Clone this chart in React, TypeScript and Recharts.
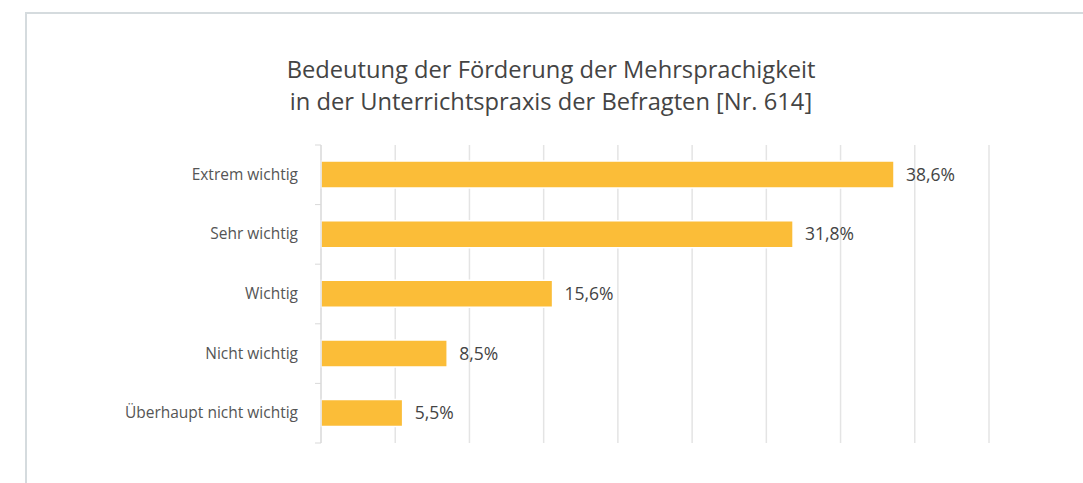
import { BarChart, Bar, XAxis, YAxis, CartesianGrid, LabelList } from "recharts";

const categories = [
  "Extrem wichtig",
  "Sehr wichtig",
  "Wichtig",
  "Nicht wichtig",
  "Überhaupt nicht wichtig",
];
const shares = [38.6, 31.8, 15.6, 8.5, 5.5];
const xTicks = [0, 5, 10, 15, 20, 25, 30, 35, 40, 45];

const data = categories.map((name, i) => ({ name, value: shares[i] }));

const FONT = "'Open Sans', 'Noto Sans', sans-serif";
const TOP = 145;
const BOTTOM = 443;
const BAND = (BOTTOM - TOP) / categories.length;

const fmt = (v: number) => `${v.toFixed(1).replace(".", ",")}%`;

function CategoryTick(props: any) {
  const { x, y, payload, index } = props;
  const ax = 321;
  return (
    <g>
      <line x1={ax - 6} x2={ax} y1={y - BAND / 2} y2={y - BAND / 2} stroke="#d9d9d9" />
      {index === categories.length - 1 && (
        <line x1={ax - 6} x2={ax} y1={y + BAND / 2} y2={y + BAND / 2} stroke="#d9d9d9" />
      )}
      <text
        x={ax - 23}
        y={y}
        dy={5}
        textAnchor="end"
        fill="#555"
        fontSize={15.5}
        fontFamily={FONT}
      >
        {payload.value}
      </text>
    </g>
  );
}

export default function App() {
  return (
    <div style={{ position: "absolute", left: 0, top: 0, width: 1083, height: 483, background: "#fff", overflow: "hidden" }}>
      <div
        style={{
          position: "absolute",
          left: 25,
          top: 12,
          right: 0,
          bottom: 0,
          borderLeft: "2px solid #d5dbde",
          borderTop: "2px solid #d5dbde",
        }}
      />
      <div
        style={{
          position: "absolute",
          left: 201,
          top: 53,
          width: 700,
          textAlign: "center",
          fontFamily: FONT,
          fontSize: 23.7,
          lineHeight: "32px",
          color: "#444",
        }}
      >
        Bedeutung der Förderung der Mehrsprachigkeit
        <br />
        in der Unterrichtspraxis der Befragten [Nr. 614]
      </div>
      <div style={{ position: "absolute", left: 0, top: 0 }}>
        <BarChart
          width={1083}
          height={483}
          data={data}
          layout="vertical"
          margin={{ top: TOP, right: 94, bottom: 483 - BOTTOM, left: 0 }}
          barCategoryGap="27%"
        >
          <CartesianGrid horizontal={false} stroke="#e4e4e4" strokeWidth={1.5} />
          <XAxis type="number" domain={[0, 45]} ticks={xTicks} hide />
          <YAxis
            type="category"
            dataKey="name"
            width={321}
            axisLine={{ stroke: "#d9d9d9" }}
            tickLine={false}
            tick={<CategoryTick />}
            interval={0}
          />
          <Bar dataKey="value" fill="#fbbd38" stroke="#fff" strokeWidth={1.5} isAnimationActive={false}>
            <LabelList
              dataKey="value"
              position="right"
              offset={12}
              formatter={(v: any) => fmt(Number(v))}
              fill="#444"
              fontSize={17.5}
              fontFamily={FONT}
            />
          </Bar>
        </BarChart>
      </div>
    </div>
  );
}
